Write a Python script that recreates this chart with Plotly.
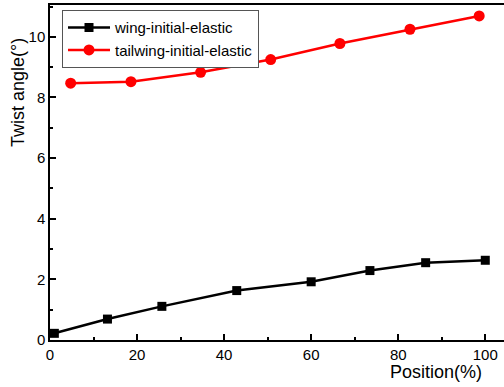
import plotly.graph_objects as go

wing_x = [1.0, 13.2, 25.7, 42.9, 60.0, 73.5, 86.3, 100.0]
wing_y = [0.22, 0.69, 1.11, 1.63, 1.92, 2.29, 2.55, 2.63]
tail_x = [4.75, 18.6, 34.6, 50.7, 66.6, 82.7, 98.6]
tail_y = [8.47, 8.52, 8.83, 9.25, 9.78, 10.25, 10.69]

FONT = "Arial, Liberation Sans, sans-serif"

fig = go.Figure()
fig.add_trace(go.Scatter(x=wing_x, y=wing_y, mode="lines+markers",
                         name="wing-initial-elastic",
                         line=dict(color="black", width=2.5),
                         marker=dict(symbol="square", size=9, color="black")))
fig.add_trace(go.Scatter(x=tail_x, y=tail_y, mode="lines+markers",
                         name="tailwing-initial-elastic",
                         line=dict(color="#ff0000", width=2.5),
                         marker=dict(symbol="circle", size=11, color="#ff0000")))

axis_common = dict(showgrid=False, zeroline=False, showline=True, linecolor="black",
                   linewidth=1.5, ticks="inside", ticklen=6, tickwidth=1.5,
                   tickcolor="black", tickfont=dict(family=FONT, size=15, color="black"))

fig.update_xaxes(range=[0, 104.3], tickvals=[0, 20, 40, 60, 80, 100], mirror=True,
                 minor=dict(ticks="inside", ticklen=3, tickwidth=1.5, dtick=10, tick0=0,
                            tickcolor="black"),
                 **axis_common)
fig.update_yaxes(range=[0, 11.05], tickvals=[0, 2, 4, 6, 8, 10],
                 minor=dict(ticks="inside", ticklen=3, tickwidth=1.5, dtick=1, tick0=0,
                            tickcolor="black"),
                 **axis_common)

fig.add_annotation(text="Position(%)", xref="paper", yref="paper", x=0.956, y=-0.0955,
                   xanchor="right", yanchor="middle", showarrow=False,
                   font=dict(family=FONT, size=18, color="black"))
fig.add_annotation(text="Twist angle(°)", xref="paper", yref="paper", x=-0.0705, y=0.74,
                   xanchor="center", yanchor="middle", textangle=-90, showarrow=False,
                   font=dict(family=FONT, size=18, color="black"))

fig.update_layout(
    width=504, height=387,
    margin=dict(l=50, r=0, t=5, b=47),
    plot_bgcolor="white", paper_bgcolor="white",
    legend=dict(x=0.026, y=0.985, xanchor="left", yanchor="top",
                bordercolor="#555555", borderwidth=1.2, bgcolor="white",
                font=dict(family=FONT, size=15, color="black"),
                tracegroupgap=0, itemwidth=42),
    showlegend=True,
)

fig.write_html("out.html")
